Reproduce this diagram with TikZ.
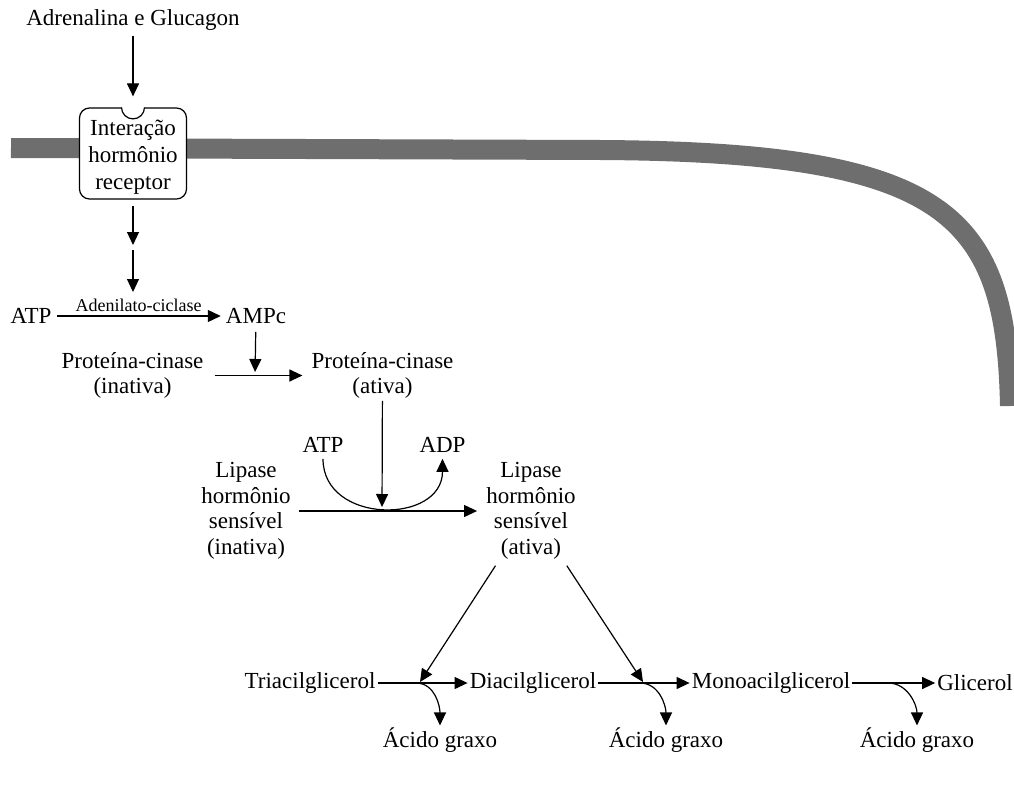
\documentclass[tikz,border=0pt]{standalone}
\usepackage{fontspec}
\setmainfont{Liberation Serif}
\usetikzlibrary{arrows.meta}
\definecolor{membrana}{HTML}{6E6E6E}

\begin{document}
\begin{tikzpicture}[x=1pt,y=1pt]
		\clip (0,0) rectangle (1014,-789);
		% membrana
		\draw[membrana,line width=20pt] (11,-148) -- (600,-150) .. controls (950,-152) and (1006,-215) .. (1010,-406);
		\begin{scope}[every node/.style={font=\fontsize{23}{25.5}\selectfont,align=center,inner sep=2pt}]
			\node (HOR) at (133,-20) {Adrenalina e Glucagon};
			\node[draw,fill=white,rounded corners=10pt,line width=1.2pt,minimum width=107pt,minimum height=91pt,
				label={[yshift=-4pt,font=\fontsize{23}{27}\selectfont]center:Interação\\hormônio\\receptor}] (REC) at (133,-153.5) {};
			\node (ATPa) at (31,-316) {ATP};
			\node (AMPc) at (256,-316) {AMPc};
			\node (PKi) at (132.5,-375.5) {Proteína-cinase\\(inativa)};
			\node (PKa) at (382.5,-375.5) {Proteína-cinase\\(ativa)};
			\node (ATPb) at (323,-445) {ATP};
			\node (ADP) at (442.5,-445) {ADP};
			\node (LHi) at (246,-511) {Lipase\\hormônio\\sensível\\(inativa)};
			\node (LHa) at (531,-511) {Lipase\\hormônio\\sensível\\(ativa)};
			\node (TAG) at (310,-683) {Triacilglicerol};
			\node (DAG) at (533,-683) {Diacilglicerol};
			\node (MAG) at (771,-683) {Monoacilglicerol};
			\node (GLI) at (975,-683) {Glicerol};
			\node (AG1) at (440,-740) {Ácido graxo};
			\node (AG2) at (666,-740) {Ácido graxo};
			\node (AG3) at (917,-740) {Ácido graxo};
		\end{scope}
		% encaixe do receptor
		\fill[white] ([xshift=-11.5pt,yshift=1pt]REC.north) -- ([xshift=-11.5pt]REC.north) arc (180:360:11.5pt) -- ([xshift=11.5pt,yshift=1pt]REC.north) -- cycle;
		\draw[line width=1.2pt] ([xshift=-11.5pt]REC.north) arc (180:360:11.5pt);
		\coordinate (c0) at (133,-247.5);
		\coordinate (ciclase) at (133,-315);
		\coordinate (pk) at (255,-377);
		\coordinate (lh) at (382,-513);
		\coordinate (h1) at (420,-682);
		\coordinate (h2) at (643,-682);
		\coordinate (b1) at (416,-683);
		\coordinate (b2) at (640,-683);
		\coordinate (b3) at (888,-683);
		\begin{scope}[>={Triangle[length=13pt,width=12pt]},
			every node/.style={font=\fontsize{18}{20}\selectfont,inner sep=1pt},
			every edge/.style={draw=black,line width=1.2pt}]
			\path [->] (HOR) edge[shorten <=3pt,shorten >=11pt] (REC);
			\path [->] (REC) edge[shorten <=6pt,shorten >=2.5pt] (c0);
			\path [->] (c0) edge[shorten <=2.5pt,shorten >=23pt] (ciclase);
			\path [->] (ATPa) edge[shorten <=3pt,shorten >=3pt] node[above,yshift=3pt] {Adenilato-ciclase} (AMPc);
			\path [->] (AMPc) edge[shorten <=6pt,shorten >=5pt] (pk);
			\path [->] (PKi) edge[shorten <=9pt,shorten >=7pt] (PKa);
			\path [->] (PKa) edge[shorten >=6pt] (lh);
			\path [->] (ATPb) edge[out=-90,in=-90,looseness=1.5,shorten <=4pt,shorten >=4pt] (ADP);
			\path [->] (LHi) edge[shorten <=6pt,shorten >=7pt] (LHa);
			\path [->] (LHa) edge[shorten <=5pt] (h1);
			\path [->] (LHa) edge[shorten <=5pt] (h2);
			\path [->] (TAG) edge (DAG);
			\path [->] (DAG) edge (MAG);
			\path [->] (MAG) edge (GLI);
			\path [->] (b1) edge[out=0,in=90] (AG1);
			\path [->] (b2) edge[out=0,in=90] (AG2);
			\path [->] (b3) edge[out=0,in=90] (AG3);
		\end{scope}
	\end{tikzpicture}
\end{document}
